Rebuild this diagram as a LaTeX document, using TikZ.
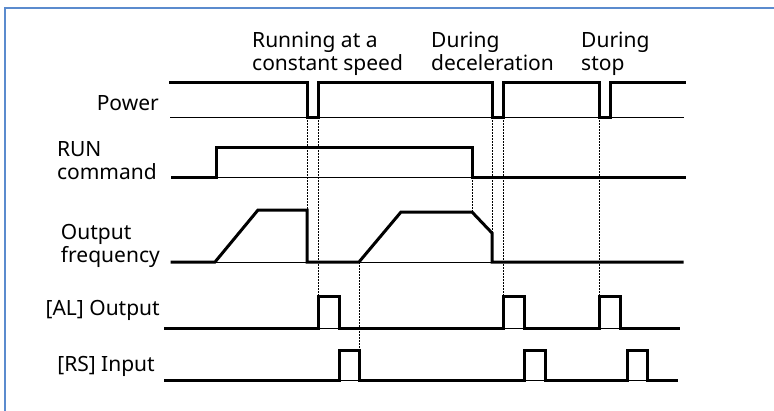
\documentclass[tikz,border=0pt]{standalone}
\usepackage{fontspec}
\setmainfont{Noto Sans}
\begin{document}
\begin{tikzpicture}[x=1pt,y=-1pt,
  sig/.style={line width=3pt,line join=miter,line cap=rect},
  base/.style={line width=0.8pt},
  guide/.style={line width=1pt,dash pattern=on 1.5pt off 1.5pt},
  lbl/.style={font=\fontsize{21}{23}\selectfont,inner sep=0pt,align=left},
  frame/.style={draw={rgb,255:red,91;green,139;blue,206},line width=2pt}]
\useasboundingbox (0,0) rectangle (774,410);
\begin{scope}
\clip (0,0) rectangle (774,410);
\draw[frame] (5,8) rectangle (790,420);
\end{scope}
% labels
\node[lbl,anchor=east] (lp) at (159,103) {Power};
\node[lbl,anchor=east] (lr) at (157,161) {RUN\\command};
\node[lbl,anchor=east] (lf) at (160,246) {Output\\frequency};
\node[lbl,anchor=east] (la) at (160,310) {[AL] Output};
\node[lbl,anchor=east] (ls) at (155,366) {[RS] Input};
\node[lbl,anchor=north west] (t1) at (252,32) {Running at a\\constant speed};
\node[lbl,anchor=north west] (t2) at (431,32) {During\\deceleration};
\node[lbl,anchor=north west] (t3) at (581,32) {During\\stop};
% coordinates
\coordinate (p0) at (170,117);
\coordinate (p1) at (684,117);
\coordinate (r0) at (216,177);
\coordinate (r1) at (684,177);
\coordinate (f0) at (172,262);
\coordinate (f1) at (682,262);
\coordinate (a0) at (165,328);
\coordinate (a1) at (678,328);
\coordinate (s0) at (165,380);
\coordinate (s1) at (676,380);
% baselines
\draw[base] (p0) -- (p1);
\draw[base] (r0) -- (r1);
\draw[base] (f0) -- (f1);
\draw[base] (a0) -- (a1);
\draw[base] (s0) -- (s1);
% guides
\draw[guide] (307,117) -- (307,210);
\draw[guide] (318,117) -- (318,296);
\draw[guide] (359,262) -- (359,350);
\draw[guide] (472,177) -- (472,212);
\draw[guide] (492,117) -- (492,233);
\draw[guide] (503,117) -- (503,296);
\draw[guide] (599,117) -- (599,296);
% power
\draw[sig] (170,82) -- (307,82) -- (307,117) -- (318,117) -- (318,82) -- (492,82) -- (492,117) -- (503,117) -- (503,82) -- (599,82) -- (599,117) -- (610,117) -- (610,82) -- (684,82);
% run
\draw[sig] (172,177) -- (216,177) -- (216,147) -- (472,147) -- (472,177) -- (684,177);
% output frequency
\draw[sig] (f0) -- (215,262) -- (258,210) -- (307,210) -- (307,262) -- (359,262) -- (401,212) -- (472,212) -- (492,233) -- (492,262) -- (f1);
% AL output
\draw[sig] (a0) -- (318,328) -- (318,296) -- (339,296) -- (339,328) -- (503,328) -- (503,296) -- (524,296) -- (524,328) -- (599,328) -- (599,296) -- (620,296) -- (620,328) -- (a1);
% RS input
\draw[sig] (s0) -- (339,380) -- (339,350) -- (359,350) -- (359,380) -- (524,380) -- (524,350) -- (545,350) -- (545,380) -- (627,380) -- (627,350) -- (647,350) -- (647,380) -- (s1);
\end{tikzpicture}
\end{document}
